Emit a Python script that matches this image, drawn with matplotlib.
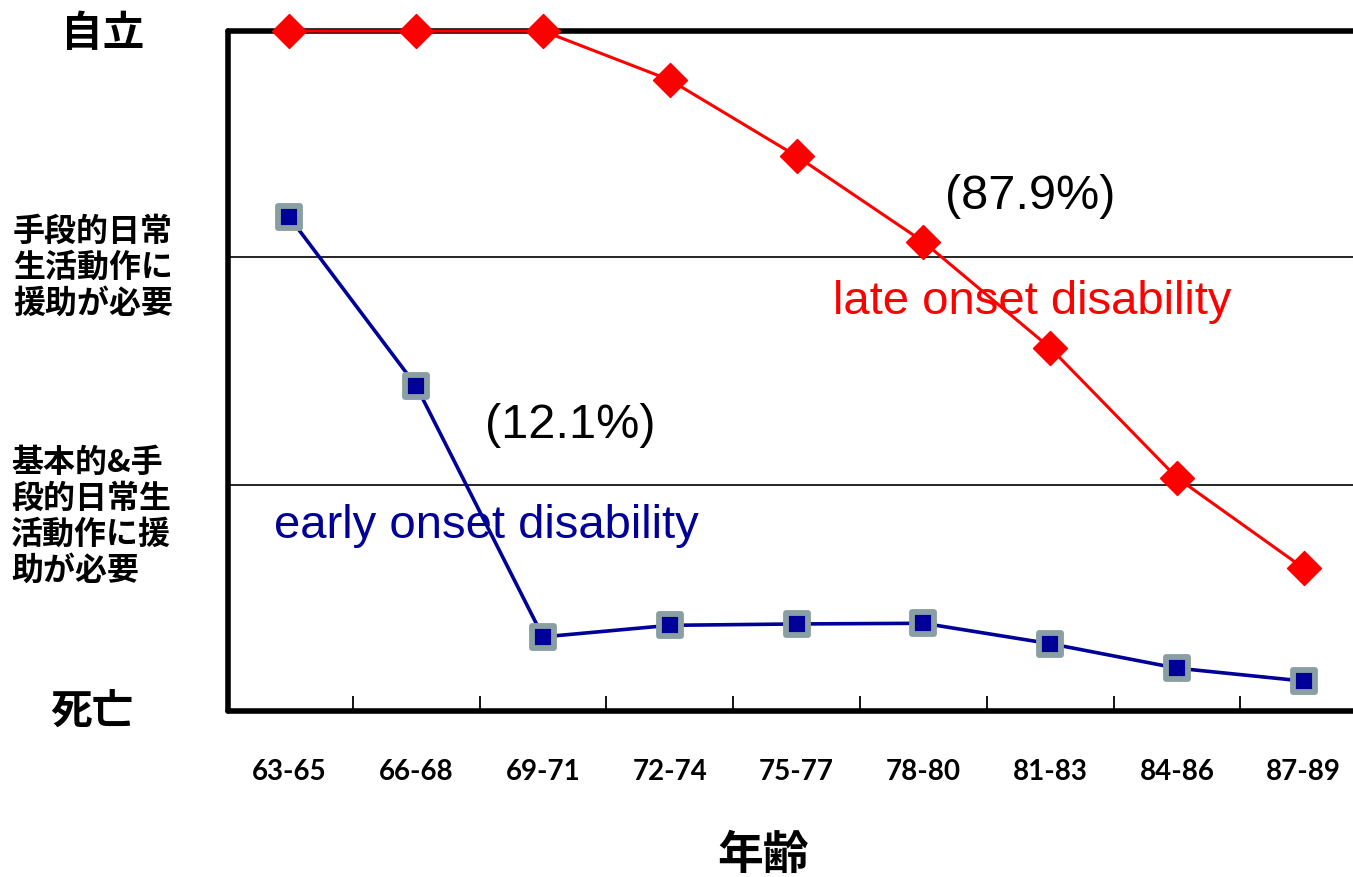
import numpy as np
import matplotlib
matplotlib.use("Agg")
import matplotlib.pyplot as plt
from matplotlib.markers import MarkerStyle

plt.rcParams['font.family'] = ['Noto Sans CJK JP', 'DejaVu Sans']

# data (0 = 死亡, 100 = 自立)
age_groups = ["63-65", "66-68", "69-71", "72-74", "75-77", "78-80", "81-83", "84-86", "87-89"]
late_onset = [100, 100, 100, 92.8, 81.6, 69.0, 53.4, 34.3, 21.0]
early_onset = [72.6, 47.8, 10.9, 12.6, 12.8, 12.9, 9.9, 6.3, 4.4]
level_lines = [33.3, 66.7]

W, H = 1353, 878
fig = plt.figure(figsize=(W / 100, H / 100), dpi=100)
ax = fig.add_axes([228 / W, 1 - 712 / H, (1369 - 228) / W, (712 - 32) / H])

x = np.arange(len(age_groups))

for lv in level_lines:
    ax.axhline(lv, color="black", lw=1.2, zorder=1)

ax.plot(x, late_onset, color="#FF0000", lw=2.2, zorder=3, clip_on=False,
        marker=MarkerStyle("D", joinstyle="round"), ms=17, mfc="#FF0000", mec="#FF0000", mew=1)
ax.plot(x, early_onset, color="#000099", lw=2.6, zorder=3, clip_on=False,
        marker=MarkerStyle("s", joinstyle="round"), ms=16, mfc="#000099", mec="#8A9FA3", mew=4.2)

ax.set_xlim(-0.485, len(age_groups) - 0.485)
ax.set_ylim(0, 100)

for side in ["left", "bottom", "top"]:
    ax.spines[side].set_linewidth(4)
    ax.spines[side].set_color("black")
    ax.spines[side].set_capstyle("round")
ax.spines["right"].set_visible(False)

ax.set_xticks(x)
ax.set_xticklabels(age_groups, fontfamily="Lato", fontweight="bold", fontsize=20)
ax.tick_params(axis="x", which="major", length=0, pad=34)
ax.set_xticks(x[:-1] + 0.5, minor=True)
ax.tick_params(axis="x", which="minor", direction="in", length=11, width=1.3)
ax.set_yticks([])

# y-level labels
fig.text(103 / W, 1 - 34 / H, "自立", ha="center", va="center", fontsize=30, fontweight="bold")
fig.text(92 / W, 1 - 713 / H, "死亡", ha="center", va="center", fontsize=30, fontweight="bold")
fig.text(13 / W, 1 - 268 / H, "手段的日常\n生活動作に\n援助が必要", ha="left", va="center",
         fontsize=23, fontweight="bold", linespacing=1.15)
fig.text(11 / W, 1 - 517 / H, "基本的&手\n段的日常生\n活動作に援\n助が必要", ha="left", va="center",
         fontsize=23, fontweight="bold", linespacing=1.15)
fig.text(763 / W, 1 - 856 / H, "年齢", ha="center", va="center", fontsize=33, fontweight="bold")

# annotations
latin = ["Liberation Sans", "Noto Sans CJK JP"]
ax.text(5.17, 75.8, "(87.9%)", ha="left", va="center", fontsize=35, color="black", family=latin)
ax.text(4.287, 60.3, "late onset disability", ha="left", va="center", fontsize=34, color="#FF0000", family=latin)
ax.text(1.543, 42.1, "(12.1%)", ha="left", va="center", fontsize=35, color="black", family=latin)
ax.text(-0.121, 27.3, "early onset disability", ha="left", va="center", fontsize=34, color="#000099", family=latin)

fig.savefig("out.png", dpi=100)
